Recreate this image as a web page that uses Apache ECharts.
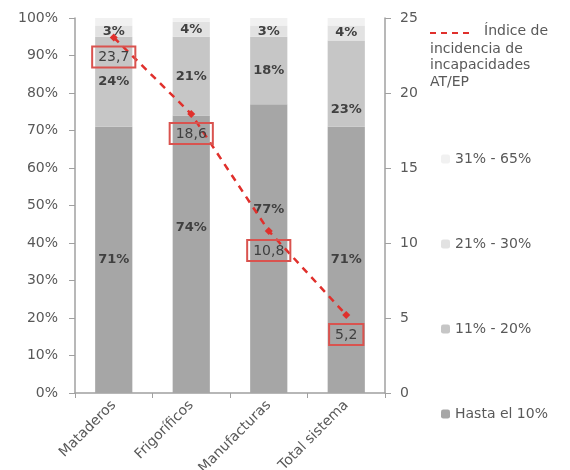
<!DOCTYPE html>
<html>
<head>
<meta charset="utf-8">
<script src="https://cdn.jsdelivr.net/npm/echarts@6/dist/echarts.min.js"></script>
<style>
  html, body { margin: 0; padding: 0; background: #fff; }
  #chart { width: 570px; height: 470px; }
</style>
</head>
<body>
<div id="chart"></div>
<script>
// datos
const categorias = ['Mataderos', 'Frigoríficos', 'Manufacturas', 'Total sistema'];
const hasta10 = [71, 74, 77, 71];
const de11a20 = [24, 21, 18, 23];
const de21a30 = [3, 4, 3, 4];
const de31a65 = [2, 1, 2, 2];
const indice = [23.7, 18.6, 10.8, 5.2];

const nombreIndice = 'Índice de incidencia de incapacidades AT/EP';

// desplazamiento vertical de algunas etiquetas (para no pisar la línea)
const despHasta10 = [0, -27, -39, 0];
const desp11a20 = [0, 0, 0, 26];

const fuente = 'DejaVu Sans';
const gris = '#595959';

(function () {
	let myChart = echarts.init(document.getElementById('chart'));

	function conDesp(valores, desp) {
		return valores.map(function (v, i) {
			return { value: v, label: { offset: [0, desp[i]] } };
		});
	}

	const etiquetaBarra = {
		show: true,
		position: 'inside',
		formatter: '{c}%',
		color: '#404040',
		fontFamily: fuente,
		fontSize: 13,
		fontWeight: 'bold'
	};

	const option = {
		animation: false,
		textStyle: { fontFamily: fuente },
		grid: { left: 75, right: 185, top: 18, bottom: 77, outerBoundsMode: 'none' },
		legend: {
			orient: 'vertical',
			left: 436,
			top: 147,
			itemWidth: 9,
			itemHeight: 9,
			itemGap: 71,
			data: ['31% - 65%', '21% - 30%', '11% - 20%', 'Hasta el 10%'],
			textStyle: { color: gris, fontSize: 14, fontFamily: fuente }
		},
		xAxis: {
			type: 'category',
			data: categorias,
			axisLine: { lineStyle: { color: '#a0a0a0', width: 1.5 } },
			axisTick: { show: true, length: 5, lineStyle: { color: '#a0a0a0' } },
			axisLabel: { rotate: 45, color: gris, fontSize: 14, fontFamily: fuente, margin: 10 }
		},
		yAxis: [
			{
				type: 'value',
				min: 0,
				max: 100,
				interval: 10,
				axisLine: { show: true, lineStyle: { color: '#a0a0a0', width: 1.5 } },
				axisTick: { show: true, length: 6, lineStyle: { color: '#a0a0a0' } },
				splitLine: { show: false },
				axisLabel: { formatter: '{value}%', color: gris, fontSize: 14, fontFamily: fuente, margin: 17 }
			},
			{
				type: 'value',
				min: 0,
				max: 25,
				interval: 5,
				position: 'right',
				axisLine: { show: true, lineStyle: { color: '#a0a0a0', width: 1.5 } },
				axisTick: { show: true, length: 6, lineStyle: { color: '#a0a0a0' } },
				splitLine: { show: false },
				axisLabel: { color: gris, fontSize: 14, fontFamily: fuente, margin: 15 }
			}
		],
		graphic: [
			{
				type: 'line',
				shape: { x1: 430, y1: 33, x2: 474, y2: 33 },
				style: { stroke: '#e0302c', lineWidth: 2, lineDash: [6, 5] }
			},
			{
				type: 'text',
				left: 484,
				top: 24,
				style: { text: 'Índice de', fill: gris, font: '14px "DejaVu Sans"' }
			},
			{
				type: 'text',
				left: 430,
				top: 41,
				style: { text: 'incidencia de\nincapacidades\nAT/EP', fill: gris, font: '14px "DejaVu Sans"', lineHeight: 16.5 }
			}
		],
		series: [
			{
				name: 'Hasta el 10%',
				type: 'bar',
				stack: 'total',
				barWidth: '48%',
				itemStyle: { color: '#a6a6a6' },
				label: etiquetaBarra,
				data: conDesp(hasta10, despHasta10)
			},
			{
				name: '11% - 20%',
				type: 'bar',
				stack: 'total',
				itemStyle: { color: '#c6c6c6' },
				label: etiquetaBarra,
				data: conDesp(de11a20, desp11a20)
			},
			{
				name: '21% - 30%',
				type: 'bar',
				stack: 'total',
				itemStyle: { color: '#e2e2e2' },
				label: etiquetaBarra,
				data: de21a30
			},
			{
				name: '31% - 65%',
				type: 'bar',
				stack: 'total',
				itemStyle: { color: '#f1f1f1' },
				data: de31a65
			},
			{
				name: nombreIndice,
				type: 'line',
				yAxisIndex: 1,
				data: indice,
				symbol: 'diamond',
				symbolSize: 8,
				itemStyle: { color: '#e0302c' },
				lineStyle: { color: '#e0302c', width: 2.5, type: [7, 6] },
				label: {
					show: true,
					position: 'bottom',
					distance: 5,
					formatter: function (p) { return String(p.value).replace('.', ','); },
					color: '#404040',
					fontSize: 14,
					fontFamily: fuente,
					borderColor: '#d9534f',
					borderWidth: 1,
					padding: [4, 6, 3, 6],
					backgroundColor: 'transparent'
				},
				z: 5
			}
		]
	};

	myChart.setOption(option);
})();
</script>
</body>
</html>
